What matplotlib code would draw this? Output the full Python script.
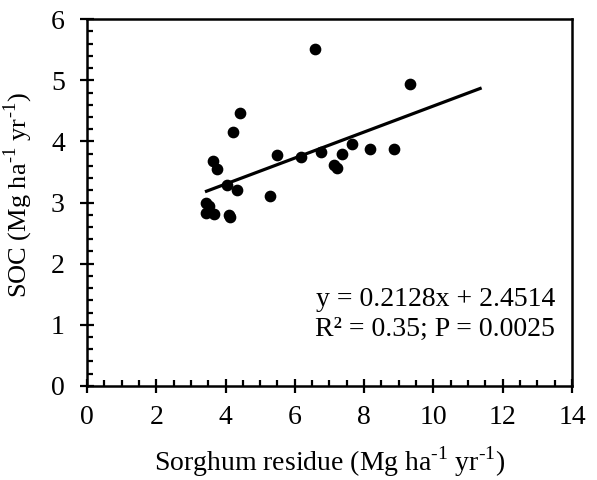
import numpy as np
import matplotlib
matplotlib.use("Agg")
import matplotlib.pyplot as plt
from matplotlib.ticker import MultipleLocator

# Sorghum residue (x) vs SOC (y)
residue = [6.57, 9.33, 4.43, 4.21, 3.63, 3.74, 5.48, 6.19, 6.77, 7.65, 7.36, 8.18,
           8.85, 7.12, 7.23, 4.04, 4.34, 5.28, 3.45, 3.53, 3.45, 3.68, 4.10, 4.12]
soc = [5.51, 4.94, 4.46, 4.15, 3.68, 3.55, 3.78, 3.74, 3.83, 3.95, 3.80, 3.88,
       3.87, 3.62, 3.57, 3.28, 3.21, 3.11, 3.00, 2.94, 2.83, 2.81, 2.80, 2.76]

slope, intercept = 0.2128, 2.4514
fit_range = [3.45, 11.35]

plt.rcParams["font.family"] = "serif"
plt.rcParams["font.serif"] = ["Liberation Serif", "DejaVu Serif"]
plt.rcParams["mathtext.fontset"] = "custom"
plt.rcParams["mathtext.rm"] = "Liberation Serif"

fig = plt.figure(figsize=(5.97, 4.80), dpi=100)
ax = fig.add_axes([0.1457, 0.196, 0.8123, 0.764])

ax.scatter(residue, soc, s=55, color="black", zorder=3)
xf = np.array(fit_range)
ax.plot(xf, slope * xf + intercept, color="black", linewidth=2.3)

ax.set_xlim(0, 14)
ax.set_ylim(0, 6)
ax.xaxis.set_major_locator(MultipleLocator(2))
ax.xaxis.set_minor_locator(MultipleLocator(0.5))
ax.yaxis.set_major_locator(MultipleLocator(1))
ax.yaxis.set_minor_locator(MultipleLocator(0.2))
ax.tick_params(which="major", direction="inout", length=10, width=1.6, labelsize=20)
ax.tick_params(which="minor", direction="in", length=4.5, width=1.6)
ax.tick_params(axis="x", which="major", pad=9)
ax.tick_params(axis="y", which="major", pad=11)
for sp in ax.spines.values():
    sp.set_linewidth(1.8)

sup = "$^{\\mathregular{\u2010}\\mathregular{1}}$"
ax.set_xlabel("Sorghum residue (Mg ha" + sup + " yr" + sup + ")", fontsize=20, labelpad=10)
ax.set_ylabel("SOC (Mg ha" + sup + " yr" + sup + ")", fontsize=19)
ax.yaxis.set_label_coords(-0.108, 0.52)

ax.text(0.965, 0.195, "y = 0.2128x + 2.4514\nR² = 0.35; P = 0.0025",
        transform=ax.transAxes, ha="right", va="center", fontsize=20,
        linespacing=1.3)

fig.savefig("out.png", dpi=100)
